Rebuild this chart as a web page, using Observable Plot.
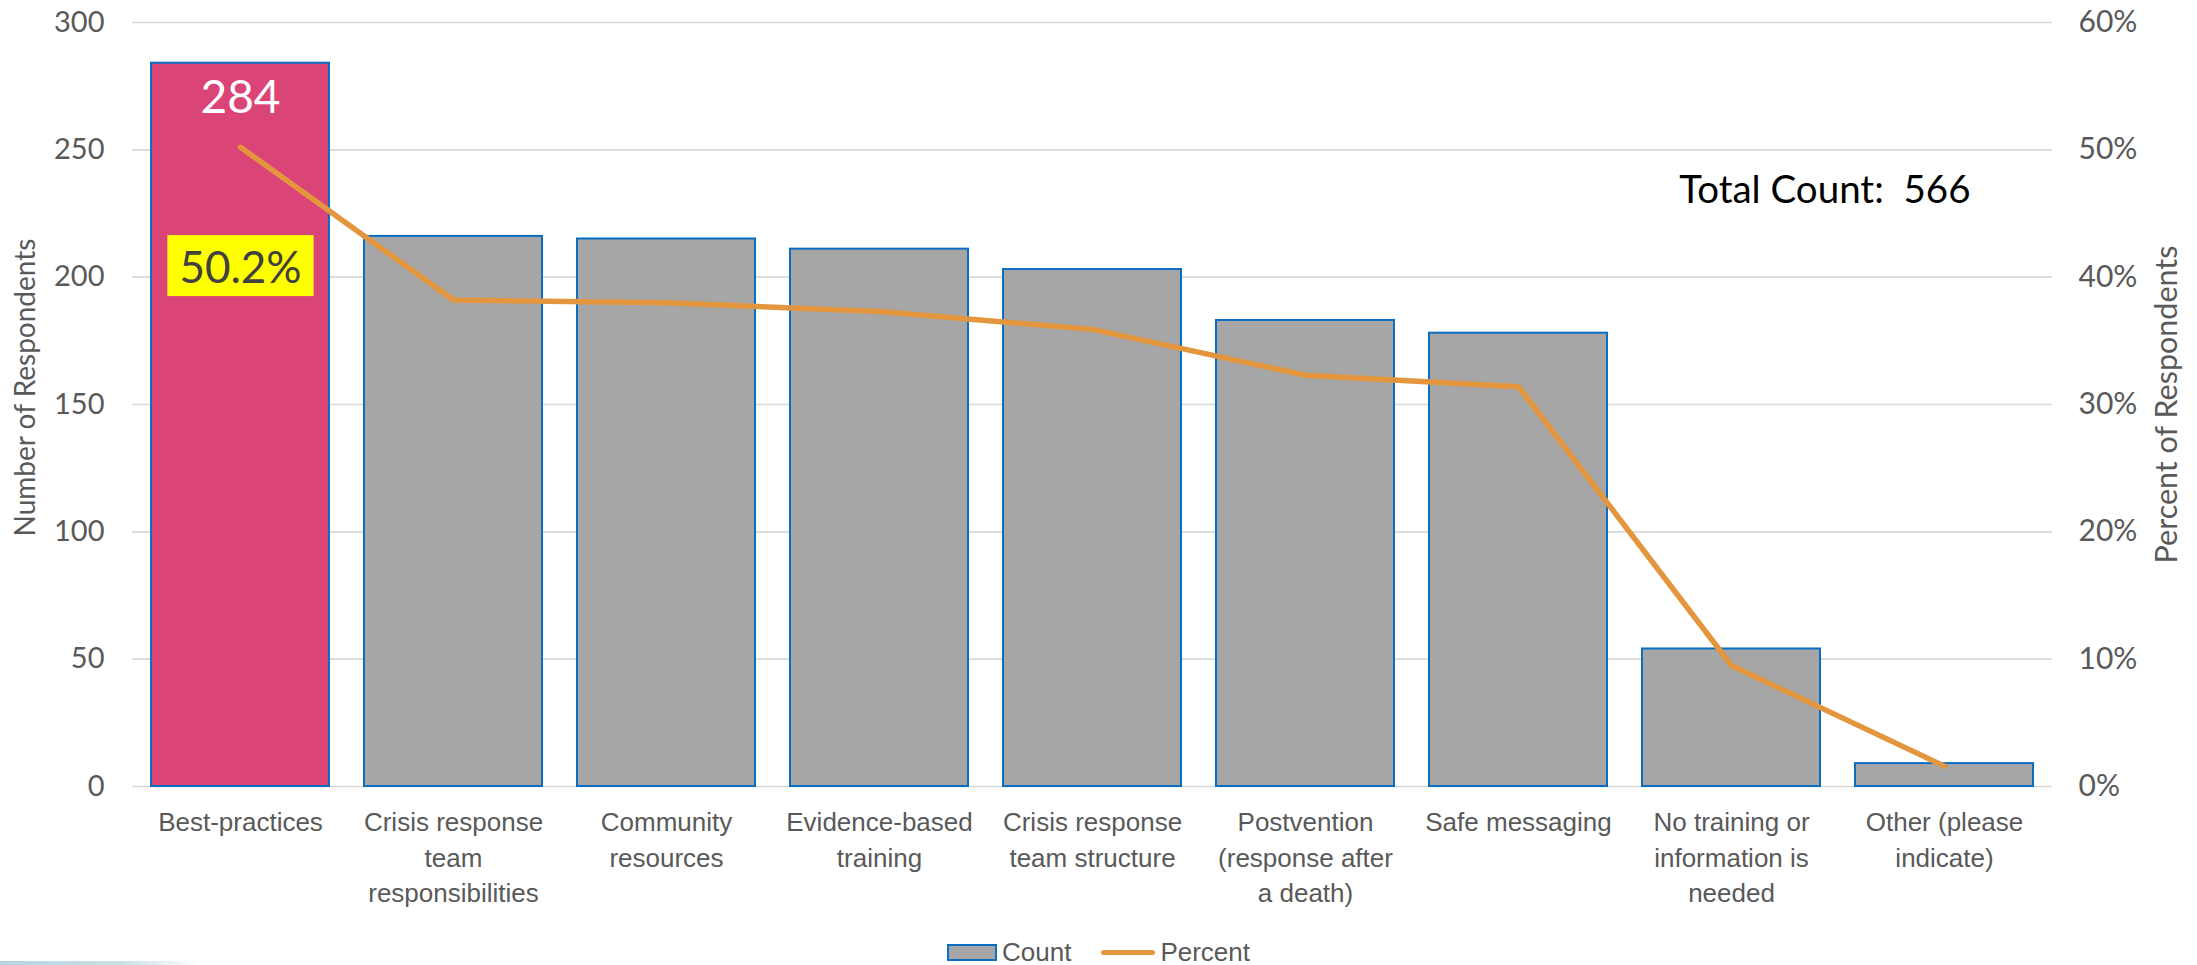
<!DOCTYPE html>
<html><head><meta charset="utf-8">
<script src="https://cdn.jsdelivr.net/npm/d3@7"></script>
<script src="https://cdn.jsdelivr.net/npm/@observablehq/plot@0.6"></script>
<style>
html,body{margin:0;padding:0;background:#fff;}
body{width:2197px;height:965px;overflow:hidden;position:relative;font-family:Lato,"Liberation Sans",sans-serif;}
#legend{position:absolute;left:0;width:2197px;top:936px;height:32px;display:flex;justify-content:center;align-items:center;font-family:"Liberation Sans",sans-serif;font-size:26px;color:#595959;white-space:nowrap;}
#legend .sw-bar{width:46px;height:13px;background:#a6a6a6;border:2px solid #0a6fc2;margin-right:5px;}
#legend .sw-line{width:54px;height:5px;background:#e3963e;border-radius:3px;margin-left:30px;margin-right:5px;}
#footer{position:absolute;left:1740px;top:961px;font-family:"Liberation Sans",sans-serif;font-size:24px;color:#000;white-space:nowrap;letter-spacing:1px;}
#deco{position:absolute;left:0;top:961px;width:200px;height:4px;background:linear-gradient(to right,#b6d5e0 0%,#c8e0e8 60%,rgba(255,255,255,0) 100%);}
</style></head><body>
<div id="chart"></div>
<div id="legend"><span class="sw-bar"></span><span>Count</span><span class="sw-line"></span><span>Percent</span></div>
<div id="deco"></div>
<div id="footer">UTAH STATE BOARD OF EDUCATION</div>
<script>
const categories = ["Best-practices","Crisis response team responsibilities","Community resources","Evidence-based training","Crisis response team structure","Postvention (response after a death)","Safe messaging","No training or information is needed","Other (please indicate)"];
const tickLabels = ["Best-practices","Crisis response\nteam\nresponsibilities","Community\nresources","Evidence-based\ntraining","Crisis response\nteam structure","Postvention\n(response after\na death)","Safe messaging","No training or\ninformation is\nneeded","Other (please\nindicate)"];
const counts = [284,216,215,211,203,183,178,54,9];
const percents = [50.2,38.2,38.0,37.3,35.9,32.3,31.4,9.5,1.6];
const totalCount = 566;
const countTicks = [0,50,100,150,200,250,300];
const percentTicks = [0,10,20,30,40,50,60];
const highlight = "Best-practices";
const leftTitle = "Number of Respondents";
const rightTitle = "Percent of Respondents";

const countMax = 300, percentMax = 60;
const pctToY = p => p * countMax / percentMax;
const data = categories.map((c,i)=>({cat:c, label:tickLabels[i], count:counts[i], pct:percents[i]}));
const labelOf = new Map(data.map(d=>[d.cat,d.label]));

const chart = Plot.plot({
  width:2197, height:936,
  marginLeft:132, marginRight:145, marginTop:22, marginBottom:150,
  style:{fontFamily:"Lato, 'Liberation Sans', sans-serif", background:"white", overflow:"visible"},
  x:{domain:categories, paddingInner:0.164, paddingOuter:0.082, label:null},
  y:{domain:[0,countMax], label:null},
  marks:[
    Plot.gridY(countTicks, {stroke:"#d9d9d9", strokeOpacity:1, strokeWidth:1.6}),
    Plot.barY(data.filter(d=>d.cat!==highlight), {x:"cat", y:"count", fill:"#a6a6a6", stroke:"#0a6fc2", strokeWidth:2}),
    Plot.barY(data.filter(d=>d.cat===highlight), {x:"cat", y:"count", fill:"#db4477", stroke:"#0a6fc2", strokeWidth:2}),
    Plot.axisY({ticks:countTicks, tickSize:0, tickPadding:28, fontSize:29, color:"#595959", label:null}),
    Plot.axisY({anchor:"right", ticks:percentTicks.map(pctToY), tickFormat:d=>`${d*percentMax/countMax}%`,
      tickSize:0, tickPadding:26, fontSize:30, color:"#595959", label:null}),
    Plot.axisX({tickSize:0, tickPadding:20, fontSize:26, color:"#595959", lineHeight:1.35,
      fontFamily:"'Liberation Sans', sans-serif",
      tickFormat:d=>labelOf.get(d), label:null}),
    Plot.text([leftTitle], {frameAnchor:"left", dx:-106, dy:-17, rotate:-90, text:d=>d, textAnchor:"middle", lineAnchor:"middle", fontSize:28, fill:"#595959"}),
    Plot.text([rightTitle], {frameAnchor:"right", dx:115, rotate:-90, text:d=>d, textAnchor:"middle", lineAnchor:"middle", fontSize:30.5, fill:"#595959"}),
    Plot.line(data, {x:"cat", y:d=>pctToY(d.pct), stroke:"#e3963e", strokeWidth:5.5, strokeLinejoin:"round"}),
    Plot.text(data.filter(d=>d.cat===highlight), {x:"cat", y:"count", text:d=>String(d.count), dy:35, lineAnchor:"middle", fill:"white", fontSize:46}),
    Plot.text(data.filter(d=>d.cat===highlight), {x:"cat", frameAnchor:"top", dy:246, lineAnchor:"middle", text:d=>d.pct.toFixed(1)+"%", fill:"#404040", fontSize:44, className:"pct-label"}),
    Plot.text([`Total Count:\u00a0 ${totalCount}`], {frameAnchor:"top-right", dx:-82, dy:168, textAnchor:"end", lineAnchor:"middle", text:d=>d, fill:"#000", fontSize:38.5})
  ]
});
document.getElementById("chart").appendChild(chart);

// yellow highlight box behind the percent label
d3.select(chart).selectAll("g.pct-label").each(function(){
  const g = this;
  d3.select(g).selectAll("text").each(function(){
    const b = this.getBBox();
    const t = this.getAttribute("transform");
    const cx = b.x + b.width/2, cy = b.y + b.height/2;
    const w = b.width + 24, h = 61;
    const r = document.createElementNS("http://www.w3.org/2000/svg","rect");
    r.setAttribute("x", cx - w/2); r.setAttribute("y", cy - h/2);
    r.setAttribute("width", w); r.setAttribute("height", h);
    r.setAttribute("fill", "#ffff00");
    if (t) r.setAttribute("transform", t);
    g.insertBefore(r, this);
  });
});
</script>
</body></html>
